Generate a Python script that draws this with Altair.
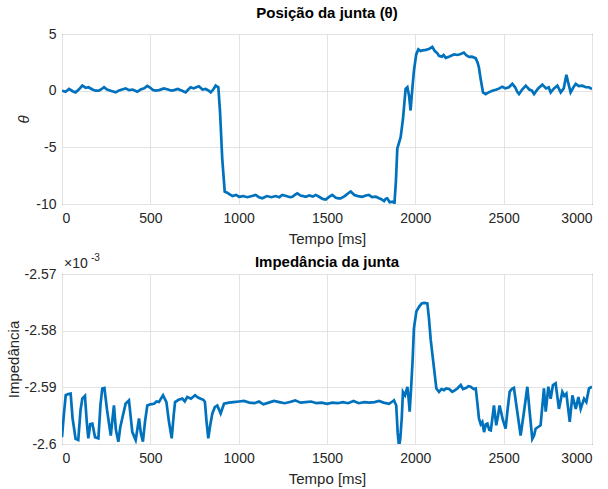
import altair as alt
import pandas as pd

# ---------------- data ----------------
theta_t = [0, 20, 40, 60, 77, 95, 115, 135, 150, 172, 190, 209, 225, 238, 255, 275, 304, 320, 340, 360,
           380, 400, 426, 445, 465, 483, 500, 515, 530, 550, 577, 600, 620, 634, 655, 680, 700, 715, 728, 745,
           760, 775, 795, 813, 830, 842, 856, 870, 885, 895, 907, 921, 935, 945, 965, 985, 1002, 1025, 1050, 1075,
           1096, 1115, 1134, 1160, 1185, 1210, 1230, 1247, 1270, 1290, 1304, 1318, 1332, 1350, 1365, 1379, 1400, 1420, 1436, 1455,
           1475, 1493, 1510, 1530, 1550, 1565, 1577, 1600, 1620, 1634, 1655, 1675, 1700, 1720, 1737, 1755, 1776, 1795, 1810, 1823,
           1832, 1841, 1855, 1870, 1882, 1890, 1898, 1917, 1930, 1945, 1955, 1965, 1973, 1982, 1992, 2005, 2017, 2030, 2040, 2060,
           2080, 2096, 2110, 2125, 2134, 2150, 2160, 2172, 2190, 2205, 2219, 2240, 2260, 2275, 2290, 2304, 2320, 2341, 2352, 2360,
           2370, 2383, 2398, 2415, 2436, 2460, 2475, 2492, 2510, 2530, 2549, 2565, 2577, 2587, 2605, 2625, 2645, 2660, 2672, 2695,
           2719, 2740, 2755, 2766, 2785, 2804, 2823, 2840, 2855, 2867, 2879, 2895, 2908, 2925, 2945, 2965, 2983, 3000]
theta_v = [0.0, -0.1, 0.15, -0.05, -0.15, 0.1, 0.45, 0.25, 0.3, 0.1, 0.0, 0.0, 0.15, 0.3, 0.1, 0.0, -0.15, 0.0, 0.1, 0.2,
           0.05, 0.1, -0.1, 0.1, 0.2, 0.42, 0.25, 0.05, 0.0, 0.05, 0.2, 0.1, 0.0, 0.05, 0.15, 0.0, -0.15, 0.1, 0.3, 0.2,
           0.3, 0.38, 0.1, 0.15, 0.0, -0.15, 0.1, 0.44, 0.3, -2.0, -6.0, -8.9, -9.0, -9.1, -9.3, -9.2, -9.36, -9.3, -9.4, -9.3,
           -9.2, -9.4, -9.5, -9.3, -9.4, -9.3, -9.4, -9.2, -9.3, -9.4, -9.36, -9.2, -9.06, -9.25, -9.3, -9.36, -9.25, -9.35, -9.2, -9.36,
           -9.55, -9.6, -9.4, -9.2, -9.45, -9.5, -9.5, -9.3, -9.05, -8.9, -9.2, -9.3, -9.36, -9.25, -9.2, -9.4, -9.36, -9.5, -9.6, -9.75,
           -9.55, -9.5, -9.85, -9.8, -9.9, -8.0, -5.1, -4.1, -2.5, 0.15, 0.3, -0.5, -1.75, 0.0, 1.75, 3.2, 3.65, 3.5, 3.55, 3.6,
           3.7, 3.86, 3.5, 3.3, 3.07, 3.0, 3.15, 2.9, 3.0, 3.1, 3.2, 3.15, 3.25, 3.36, 3.1, 2.98, 3.0, 2.87, 2.5, 2.05,
           1.0, -0.15, -0.3, -0.15, 0.0, 0.1, 0.2, 0.35, 0.2, 0.3, 0.6, 0.3, -0.1, -0.3, 0.1, 0.44, 0.1, 0.0, -0.3, 0.2,
           0.53, 0.2, 0.3, -0.15, 0.2, 0.44, -0.15, 0.2, 1.4, 0.6, -0.15, 0.3, 0.6, 0.4, 0.44, 0.3, 0.3, 0.15]

# impedance values in units of 1e-3
imp_t = [0, 10, 21, 35, 49, 60, 77, 92, 105, 115, 130, 140, 149, 160, 172, 187, 206, 218, 228, 240,
         255, 276, 294, 305, 319, 330, 341, 360, 379, 398, 417, 436, 446, 458, 470, 483, 500, 521, 535, 549,
         560, 572, 591, 605, 621, 632, 640, 660, 681, 695, 709, 730, 753, 770, 785, 800, 809, 818, 828, 840,
         851, 865, 879, 898, 917, 945, 970, 1002, 1030, 1060, 1090, 1115, 1140, 1170, 1200, 1230, 1260, 1290, 1320, 1350,
         1380, 1410, 1440, 1470, 1500, 1530, 1560, 1590, 1620, 1650, 1680, 1710, 1740, 1770, 1794, 1820, 1851, 1870, 1879, 1892,
         1900, 1908, 1915, 1923, 1930, 1942, 1955, 1962, 1968, 1977, 1985, 1992, 2006, 2021, 2036, 2050, 2068, 2077, 2087, 2096,
         2106, 2119, 2134, 2148, 2162, 2175, 2191, 2209, 2225, 2238, 2257, 2270, 2289, 2300, 2313, 2330, 2342, 2352, 2360, 2370,
         2379, 2389, 2399, 2408, 2418, 2427, 2436, 2445, 2458, 2468, 2477, 2496, 2511, 2522, 2534, 2546, 2558, 2577, 2596, 2615,
         2634, 2647, 2662, 2672, 2681, 2695, 2709, 2728, 2738, 2753, 2766, 2779, 2794, 2813, 2832, 2843, 2855, 2874, 2889, 2908,
         2923, 2936, 2955, 2968, 2983, 3000]
imp_v = [-2.5988, -2.5950, -2.5914, -2.5912, -2.5911, -2.5955, -2.5991, -2.5993, -2.5940, -2.5920, -2.5915, -2.5960, -2.5990, -2.5965, -2.5964, -2.5988, -2.5990, -2.5930, -2.5902, -2.5901,
         -2.5940, -2.5985, -2.5932, -2.5975, -2.5996, -2.5970, -2.5955, -2.5929, -2.5923, -2.5979, -2.5993, -2.5955, -2.5980, -2.5996, -2.5960, -2.5932, -2.5930, -2.5929, -2.5925, -2.5926,
         -2.5920, -2.5914, -2.5926, -2.5960, -2.5990, -2.5950, -2.5926, -2.5922, -2.5920, -2.5925, -2.5917, -2.5920, -2.5914, -2.5918, -2.5920, -2.5922, -2.5926, -2.5960, -2.5990, -2.5965,
         -2.5946, -2.5935, -2.5932, -2.5946, -2.5929, -2.5927, -2.5926, -2.5925, -2.5924, -2.5927, -2.5928, -2.5925, -2.5930, -2.5927, -2.5924, -2.5926, -2.5928, -2.5926, -2.5923, -2.5927,
         -2.5926, -2.5925, -2.5928, -2.5927, -2.5929, -2.5927, -2.5928, -2.5926, -2.5928, -2.5924, -2.5928, -2.5926, -2.5927, -2.5926, -2.5924, -2.5927, -2.5929, -2.5925, -2.5923, -2.5932,
         -2.5980, -2.6005, -2.5990, -2.5955, -2.5908, -2.5914, -2.5899, -2.5920, -2.5943, -2.5896, -2.5850, -2.5796, -2.5766, -2.5758, -2.5752, -2.5751, -2.5752, -2.5778, -2.5816, -2.5840,
         -2.5867, -2.5902, -2.5908, -2.5903, -2.5905, -2.5902, -2.5903, -2.5908, -2.5905, -2.5902, -2.5896, -2.5903, -2.5901, -2.5898, -2.5899, -2.5903, -2.5902, -2.5930, -2.5955, -2.5965,
         -2.5961, -2.5979, -2.5965, -2.5964, -2.5975, -2.5976, -2.5955, -2.5932, -2.5967, -2.5950, -2.5932, -2.5958, -2.5973, -2.5940, -2.5908, -2.5903, -2.5901, -2.5943, -2.5985, -2.5943,
         -2.5899, -2.5943, -2.5991, -2.5985, -2.5973, -2.5970, -2.5967, -2.5902, -2.5943, -2.5899, -2.5920, -2.5896, -2.5893, -2.5938, -2.5908, -2.5915, -2.5911, -2.5961, -2.5914, -2.5938,
         -2.5917, -2.5938, -2.5920, -2.5926, -2.5902, -2.5899]

x_ticks = [0, 500, 1000, 1500, 2000, 2500, 3000]
theta_ticks = [-10, -5, 0, 5]
imp_ticks = [-2.6, -2.59, -2.58, -2.57]

title_top = "Posição da junta (θ)"
title_bottom = "Impedância da junta"

df_theta = pd.DataFrame({"t": theta_t, "v": theta_v})
df_imp = pd.DataFrame({"t": imp_t, "v": imp_v})

FONT = "Liberation Sans"
TXT = "#262626"
BLUE = "#0072BD"
MINUS = "\u2212"
W, H = 530, 170


def x_enc():
    return alt.X(
        "t:Q",
        scale=alt.Scale(domain=[0, 3000], nice=False, zero=False),
        axis=alt.Axis(values=x_ticks, title="Tempo [ms]", labelPadding=7, titlePadding=6,
                      labelExpr=f"replace(format(datum.value, 'd'), '{MINUS}', '-')"),
    )


top = alt.Chart(df_theta).mark_line(color=BLUE, strokeWidth=2.7, clip=True).encode(
    x=x_enc(),
    y=alt.Y("v:Q", scale=alt.Scale(domain=[-10, 5], nice=False, zero=False),
            axis=alt.Axis(values=theta_ticks, title="θ", titleFontStyle="italic",
                          labelPadding=6, titlePadding=4,
                          labelExpr=f"replace(format(datum.value, 'd'), '{MINUS}', '-')")),
).properties(
    width=W, height=H,
    title=alt.TitleParams(title_top, fontSize=15, fontWeight="bold", color="black",
                          font=FONT, offset=6),
)

bottom_line = alt.Chart(df_imp).mark_line(color=BLUE, strokeWidth=2.7, clip=True).encode(
    x=x_enc(),
    y=alt.Y("v:Q", scale=alt.Scale(domain=[-2.6, -2.57], nice=False, zero=False),
            axis=alt.Axis(values=imp_ticks, title="Impedância", labelPadding=6, titlePadding=3,
                          labelExpr=f"replace(format(datum.value, '.2~f'), '{MINUS}', '-')")),
)

bottom_title = alt.Chart(pd.DataFrame({"s": [title_bottom]})).mark_text(
    align="center", baseline="alphabetic", fontSize=15, fontWeight="bold", font=FONT, color="black"
).encode(x=alt.value(W / 2), y=alt.value(-7), text="s:N")

exp_base = alt.Chart(pd.DataFrame({"s": ["×10"]})).mark_text(
    align="left", baseline="alphabetic", fontSize=14, font=FONT, color=TXT
).encode(x=alt.value(2), y=alt.value(-6), text="s:N")

exp_sup = alt.Chart(pd.DataFrame({"s": ["-3"]})).mark_text(
    align="left", baseline="alphabetic", fontSize=10, font=FONT, color=TXT
).encode(x=alt.value(29), y=alt.value(-13), text="s:N")

bottom = alt.layer(bottom_line, bottom_title, exp_base, exp_sup).properties(width=W, height=H)

chart = alt.vconcat(top, bottom, spacing=5).properties(
    padding={"left": 5, "top": 5, "right": 0, "bottom": 2},
    background="white",
).configure_view(
    stroke=TXT, strokeWidth=1,
).configure_axis(
    grid=True, gridColor="#e3e3e3", gridWidth=1,
    domain=False, ticks=False,
    labelFont=FONT, labelFontSize=14, labelColor=TXT,
    titleFont=FONT, titleFontSize=15, titleColor=TXT, titleFontWeight="normal",
).configure_title(anchor="middle")

chart.save("out.html", embed_options={"renderer": "svg", "actions": False})
